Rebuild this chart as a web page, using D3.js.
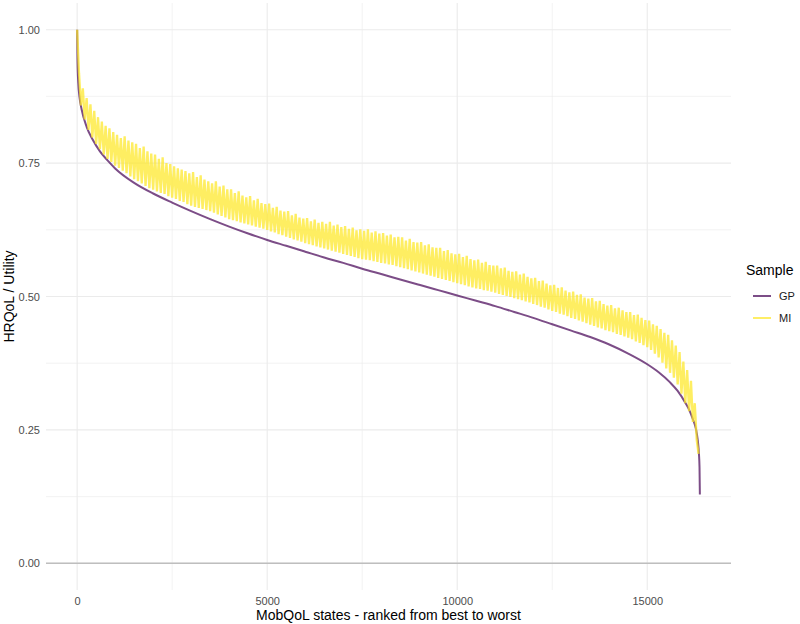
<!DOCTYPE html>
<html>
<head>
<meta charset="utf-8">
<script src="https://cdn.jsdelivr.net/npm/d3@7"></script>
<style>
	body { margin: 0; background: #fff; }
	svg { display: block; font-family: "Liberation Sans", Arial, sans-serif; }
</style>
</head>
<body>
<svg id="chart" width="800" height="624"></svg>
<script>
// tick values
var xTicks = [0, 5000, 10000, 15000];
var xMinor = [2500, 7500, 12500];
var yTicks = [0, 0.25, 0.5, 0.75, 1];
var yMinor = [0.125, 0.375, 0.625, 0.875];

var samples = ["GP", "MI"];

// GP sample: ranked utility (smooth curve)
var gpRank = [0, 10, 30, 60, 120, 250, 400, 600, 800, 1000, 1500, 2000, 2500, 3000, 3500, 4000, 4500,
	5000, 5500, 6000, 6500, 7000, 7500, 8000, 8500, 9000, 9500, 10000, 10500, 11000, 11500, 12000,
	12500, 13000, 13500, 14000, 14500, 15000, 15300, 15600, 15800, 16000, 16100, 16200, 16280,
	16330, 16360, 16375, 16384];
var gpValue = [1.000, 0.940, 0.900, 0.875, 0.850, 0.818, 0.795, 0.772, 0.755, 0.740, 0.713, 0.693, 0.676, 0.660, 0.645, 0.631, 0.618,
	0.606, 0.595, 0.584, 0.573, 0.563, 0.552, 0.542, 0.532, 0.522, 0.512, 0.502, 0.492, 0.482, 0.471, 0.460,
	0.448, 0.436, 0.424, 0.410, 0.393, 0.373, 0.358, 0.339, 0.323, 0.301, 0.288, 0.270, 0.252,
	0.230, 0.205, 0.180, 0.129];

// MI sample: one value every 50 ranks (rows of 500 ranks)
var miStep = 50;
var miValue = [
	1.000, 0.918, 0.858, 0.890, 0.832, 0.872, 0.812, 0.860, 0.798, 0.848,
	0.786, 0.836, 0.776, 0.828, 0.766, 0.820, 0.758, 0.815, 0.752, 0.808,
	0.745, 0.803, 0.741, 0.797, 0.736, 0.800, 0.731, 0.792, 0.725, 0.789,
	0.720, 0.786, 0.716, 0.778, 0.712, 0.781, 0.707, 0.772, 0.703, 0.768,
	0.700, 0.766, 0.697, 0.758, 0.694, 0.761, 0.692, 0.750, 0.688, 0.748,
	0.685, 0.744, 0.683, 0.740, 0.679, 0.738, 0.677, 0.735, 0.673, 0.731,
	0.670, 0.733, 0.668, 0.724, 0.666, 0.727, 0.664, 0.719, 0.662, 0.716,
	0.660, 0.712, 0.657, 0.716, 0.654, 0.706, 0.651, 0.708, 0.648, 0.701,
	0.645, 0.701, 0.643, 0.694, 0.641, 0.697, 0.639, 0.689, 0.637, 0.686,
	0.635, 0.688, 0.633, 0.680, 0.631, 0.683, 0.629, 0.675, 0.627, 0.673,
	0.625, 0.674, 0.622, 0.666, 0.620, 0.668, 0.617, 0.661, 0.615, 0.659,
	0.612, 0.660, 0.610, 0.652, 0.607, 0.655, 0.605, 0.648, 0.603, 0.646,
	0.600, 0.647, 0.598, 0.641, 0.596, 0.644, 0.594, 0.638, 0.592, 0.640,
	0.590, 0.636, 0.588, 0.640, 0.586, 0.633, 0.584, 0.635, 0.582, 0.630,
	0.580, 0.632, 0.578, 0.627, 0.576, 0.629, 0.574, 0.624, 0.572, 0.626,
	0.570, 0.623, 0.569, 0.626, 0.568, 0.620, 0.566, 0.622, 0.565, 0.618,
	0.563, 0.619, 0.562, 0.614, 0.560, 0.616, 0.559, 0.611, 0.557, 0.612,
	0.555, 0.611, 0.553, 0.605, 0.551, 0.608, 0.549, 0.602, 0.547, 0.601,
	0.545, 0.602, 0.543, 0.596, 0.541, 0.598, 0.539, 0.592, 0.537, 0.591,
	0.535, 0.591, 0.533, 0.585, 0.531, 0.587, 0.529, 0.581, 0.527, 0.579,
	0.525, 0.580, 0.523, 0.574, 0.521, 0.576, 0.519, 0.570, 0.517, 0.568,
	0.515, 0.569, 0.514, 0.563, 0.512, 0.565, 0.511, 0.559, 0.509, 0.558,
	0.507, 0.558, 0.505, 0.553, 0.503, 0.554, 0.501, 0.548, 0.499, 0.546,
	0.497, 0.547, 0.495, 0.541, 0.493, 0.543, 0.491, 0.537, 0.489, 0.534,
	0.486, 0.535, 0.484, 0.529, 0.481, 0.530, 0.479, 0.524, 0.476, 0.521,
	0.473, 0.522, 0.471, 0.516, 0.468, 0.517, 0.466, 0.511, 0.463, 0.508,
	0.460, 0.509, 0.458, 0.503, 0.455, 0.504, 0.453, 0.498, 0.450, 0.496,
	0.447, 0.497, 0.445, 0.491, 0.442, 0.492, 0.440, 0.486, 0.437, 0.483,
	0.435, 0.484, 0.433, 0.478, 0.430, 0.479, 0.428, 0.474, 0.425, 0.471,
	0.423, 0.471, 0.420, 0.465, 0.416, 0.466, 0.413, 0.460, 0.409, 0.456,
	0.405, 0.455, 0.400, 0.448, 0.393, 0.445, 0.386, 0.439, 0.376, 0.432,
	0.365, 0.428, 0.357, 0.418, 0.348, 0.408, 0.335, 0.396, 0.318, 0.378,
	0.300, 0.362, 0.285, 0.342, 0.265, 0.300, 0.232, 0.205
];

var colors = { GP: "#440154", MI: "#FDE725" };

var panel = { left: 46, right: 731, top: 3, bottom: 590 };

var svg = d3.select("#chart");

// ggplot-style 5% expansion
var xMax = 16384;
var x = d3.scaleLinear()
	.domain([-xMax * 0.05, xMax * 1.05])
	.range([panel.left, panel.right]);
var y = d3.scaleLinear()
	.domain([-0.05, 1.05])
	.range([panel.bottom, panel.top]);

/*
 * grid
 */
var grid = svg.append("g").attr("class", "grid");

grid.selectAll(".yminor").data(yMinor).enter()
	.append("line")
		.attr("x1", panel.left).attr("x2", panel.right)
		.attr("y1", function(d) { return y(d); })
		.attr("y2", function(d) { return y(d); })
		.attr("stroke", "#ebebeb").attr("stroke-width", 0.6);
grid.selectAll(".xminor").data(xMinor).enter()
	.append("line")
		.attr("y1", panel.top).attr("y2", panel.bottom)
		.attr("x1", function(d) { return x(d); })
		.attr("x2", function(d) { return x(d); })
		.attr("stroke", "#ebebeb").attr("stroke-width", 0.6);
grid.selectAll(".ymajor").data(yTicks).enter()
	.append("line")
		.attr("x1", panel.left).attr("x2", panel.right)
		.attr("y1", function(d) { return y(d); })
		.attr("y2", function(d) { return y(d); })
		.attr("stroke", "#ebebeb").attr("stroke-width", 1.1);
grid.selectAll(".xmajor").data(xTicks).enter()
	.append("line")
		.attr("y1", panel.top).attr("y2", panel.bottom)
		.attr("x1", function(d) { return x(d); })
		.attr("x2", function(d) { return x(d); })
		.attr("stroke", "#ebebeb").attr("stroke-width", 1.1);

// zero reference line
svg.append("line")
	.attr("x1", panel.left).attr("x2", panel.right)
	.attr("y1", y(0)).attr("y2", y(0))
	.attr("stroke", "#bebebe").attr("stroke-width", 1.5);

/*
 * lines
 */
var gpData = gpRank.map(function(r, i) { return [r, gpValue[i]]; });
var miData = miValue.map(function(v, i) { return [i * miStep, v]; });

var gpLine = d3.line()
	.curve(d3.curveMonotoneX)
	.x(function(d) { return x(d[0]); })
	.y(function(d) { return y(d[1]); });
var miLine = d3.line()
	.x(function(d) { return x(d[0]); })
	.y(function(d) { return y(d[1]); });

svg.append("path")
	.datum(gpData)
	.attr("d", gpLine)
	.attr("fill", "none")
	.attr("stroke", colors.GP)
	.attr("stroke-opacity", 0.7)
	.attr("stroke-width", 2)
	.attr("stroke-linejoin", "round");

svg.append("path")
	.datum(miData)
	.attr("d", miLine)
	.attr("fill", "none")
	.attr("stroke", colors.MI)
	.attr("stroke-opacity", 0.72)
	.attr("stroke-width", 2.3)
	.attr("stroke-linejoin", "bevel");

/*
 * axes
 */
var xAxis = svg.append("g")
	.attr("transform", "translate(0," + panel.bottom + ")")
	.call(d3.axisBottom(x).tickValues(xTicks).tickSize(0).tickPadding(7).tickFormat(d3.format("d")));
var yAxis = svg.append("g")
	.attr("transform", "translate(" + panel.left + ",0)")
	.call(d3.axisLeft(y).tickValues(yTicks).tickSize(0).tickPadding(6).tickFormat(d3.format(".2f")));

[xAxis, yAxis].forEach(function(a) {
	a.select(".domain").remove();
	a.selectAll("text")
		.attr("fill", "#4d4d4d")
		.style("font-size", "11px")
		.style("font-family", "'Liberation Sans', Arial, sans-serif");
});

svg.append("text")
	.attr("x", (panel.left + panel.right) / 2)
	.attr("y", 620)
	.attr("text-anchor", "middle")
	.style("font-size", "14px")
	.text("MobQoL states - ranked from best to worst");

svg.append("text")
	.attr("transform", "translate(13.5," + ((panel.top + panel.bottom) / 2) + ") rotate(-90)")
	.attr("text-anchor", "middle")
	.style("font-size", "14px")
	.text("HRQoL / Utility");

/*
 * legend
 */
var legend = svg.append("g").attr("transform", "translate(746,0)");
legend.append("text")
	.attr("x", 0).attr("y", 275)
	.style("font-size", "14px")
	.text("Sample");

var keys = legend.selectAll(".key").data(samples).enter()
	.append("g")
		.attr("transform", function(d, i) { return "translate(0," + (296 + i * 22) + ")"; });
keys.append("line")
	.attr("x1", 7).attr("x2", 25)
	.attr("stroke", function(d) { return colors[d]; })
	.attr("stroke-opacity", 0.7)
	.attr("stroke-width", 2);
keys.append("text")
	.attr("x", 33).attr("y", 4)
	.style("font-size", "11px")
	.attr("fill", "#1a1a1a")
	.text(function(d) { return d; });
</script>
</body>
</html>
